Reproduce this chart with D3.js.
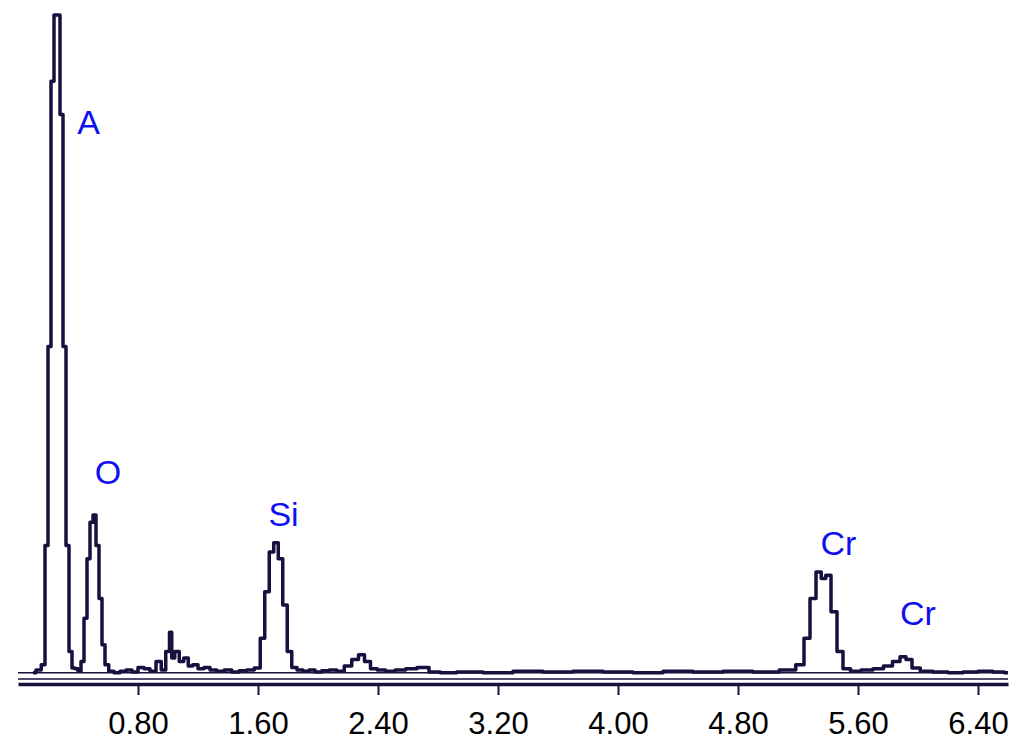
<!DOCTYPE html>
<html><head><meta charset="utf-8">
<script src="https://cdn.jsdelivr.net/npm/d3@7"></script>
<style>body{margin:0;background:#fff}</style></head>
<body><svg id="c" width="1024" height="756"></svg>
<script>
const energies=[0.10,0.14,0.17,0.19,0.21,0.23,0.25,0.27,0.29,0.31,0.33,0.35,0.37,0.39,0.41,0.43,0.45,0.47,0.49,0.51,0.53,0.55,0.57,0.59,0.62,0.66,0.70,0.74,0.78,0.82,0.86,0.90,0.94,0.97,1.00,1.02,1.03,1.06,1.09,1.12,1.15,1.18,1.22,1.26,1.30,1.35,1.40,1.45,1.50,1.55,1.60,1.63,1.66,1.69,1.72,1.75,1.78,1.81,1.84,1.88,1.92,1.96,2.00,2.05,2.10,2.15,2.20,2.25,2.29,2.33,2.37,2.42,2.48,2.55,2.62,2.70,2.78,2.85,3.00,3.20,3.40,3.60,3.80,4.00,4.20,4.40,4.60,4.80,5.00,5.15,5.22,5.26,5.30,5.34,5.37,5.40,5.44,5.48,5.52,5.58,5.66,5.74,5.80,5.86,5.90,5.94,5.98,6.05,6.15,6.25,6.35,6.45,6.55,6.60];
const counts=[8,12,20,200,500,900,1000,1000,850,500,200,40,15,14,10,25,90,180,235,246,200,120,50,20,10,8,10,12,9,16,14,10,25,12,40,69,30,40,25,30,18,20,14,16,12,10,12,9,11,12,15,60,130,190,204,180,110,40,16,12,10,12,9,11,12,10,18,28,35,25,14,12,10,12,14,16,9,8,9,8,10,9,10,9,8,10,9,10,9,12,20,60,120,160,150,155,100,40,14,10,12,14,18,25,32,28,15,10,9,8,9,10,9,8];
const tickValues=[0.8,1.6,2.4,3.2,4.0,4.8,5.6,6.4];
const labels=[{t:"A",e:0.47,c:820},{t:"O",e:0.60,c:293},{t:"Si",e:1.77,c:230},{t:"Cr",e:5.47,c:185},{t:"Cr",e:6.00,c:80}];
const svg=d3.select("#c");
const x=d3.scaleLinear().domain([0,6.6]).range([18,1008]);
const y=d3.scaleLinear().domain([0,1000]).range([678,15]);
const data=energies.map((e,i)=>[e,counts[i]]);
svg.append("line").attr("x1",x(0)).attr("x2",x(6.6)).attr("y1",y(8)).attr("y2",y(8)).attr("stroke","#1a1040").attr("stroke-width",1.5);
svg.append("path").datum(data).attr("fill","none").attr("stroke","#1a1040").attr("stroke-width",3.5)
 .attr("stroke-linejoin","round").attr("d",d3.line().x(d=>x(d[0])).y(d=>y(d[1])).curve(d3.curveStep));
svg.append("line").attr("x1",18).attr("x2",1008).attr("y1",679).attr("y2",679).attr("stroke","#1a1040").attr("stroke-width",1.5);
const ax=svg.append("g").attr("transform","translate(0,684)")
 .call(d3.axisBottom(x).tickValues(tickValues).tickFormat(d3.format(".2f")).tickSize(11).tickSizeOuter(0));
ax.select(".domain").attr("stroke","#1a1040").attr("stroke-width",3.5);
ax.selectAll(".tick line").attr("stroke","#1a1040").attr("stroke-width",2);
ax.selectAll("text").attr("font-family","Liberation Sans Narrow, Liberation Sans, Arial").attr("font-size",31).attr("fill","#000").attr("dy","1.15em");
svg.selectAll(".lbl").data(labels).enter().append("text").attr("x",d=>x(d.e)).attr("y",d=>y(d.c))
 .attr("text-anchor","middle").attr("font-family","Liberation Sans, Arial").attr("font-size",34).attr("fill","#1010ee").text(d=>d.t);
</script></body></html>
